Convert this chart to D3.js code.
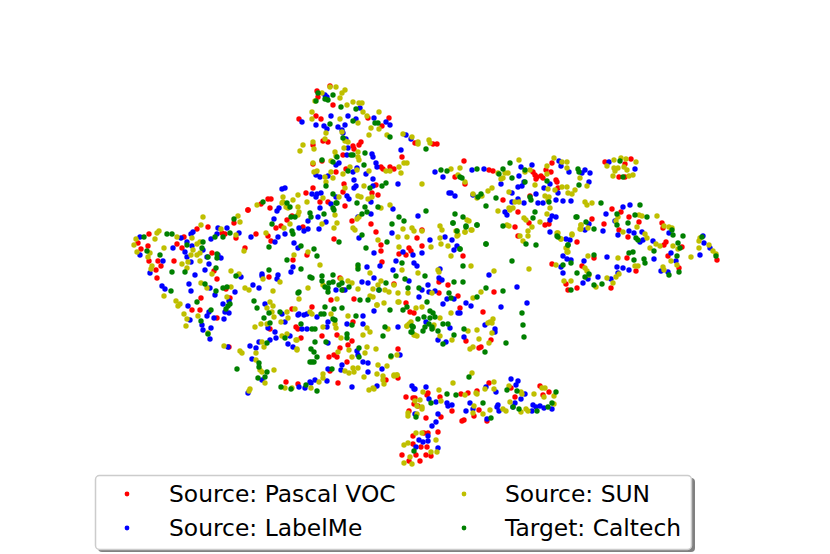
<!DOCTYPE html>
<html><head><meta charset="utf-8">
<script src="https://cdn.jsdelivr.net/npm/d3@7/dist/d3.min.js"></script>
<style>html,body{margin:0;padding:0;background:#fff}svg{display:block}</style>
</head><body><div id="chart"></div>
<script>
const seriesNames = ["Source: Pascal VOC","Source: LabelMe","Source: SUN","Target: Caltech"];
const seriesColors = ["#ff0000","#0000ff","#bfbf00","#008000"];
const pascal = [[248,210],[234,223],[208,227],[197,229],[149,234],[184,237],[222,233],[225,234],[236,238],[138,243],[148,246],[141,249],[177,244],[182,248],[245,248],[149,261],[158,261],[174,261],[161,266],[156,270],[212,253],[214,271],[157,278],[217,279],[226,289],[201,298],[230,298],
[192,310],[200,310],[217,318],[270,329],[296,327],[298,329],[292,309],[286,382],[298,384],[229,347],
[330,86],[317,91],[318,97],[333,105],[299,119],[316,116],[321,119],[368,118],[389,118],[382,126],[328,142],[323,141],[313,145],[353,146],[354,149],[361,142],[359,145],[343,155],[322,161],[313,164],[402,157],[433,144],[437,144],[415,143],[383,169],[390,167],[394,169],[381,167],[336,172],[346,169],[376,185],[344,184],[343,192],[313,188],[306,193],[268,199],[271,199],[261,204],[248,210],[270,208],[378,195],[372,193],[320,202],[328,202],[345,206],[287,220],[292,216],[352,221],[371,224],[281,226],[276,228],
[256,234],[268,236],[271,241],[303,227],[307,255],[293,260],[334,239],[376,232],[381,245],[381,251],[382,262],[269,277],[340,278],[343,290],[354,299],[331,300],
[422,230],[417,238],[422,246],[409,248],[411,251],[406,255],[399,254],[394,284],[439,282],[448,285],[439,293],[458,296],[406,303],[410,312],[414,313],[460,308],[463,256],[494,292],[483,312],[466,341],[491,340],[479,348],[481,347],
[312,307],[301,338],[322,336],[337,335],[352,341],[353,322],[340,348],[348,345],[334,355],[329,357],[337,357],[347,362],[330,371],[338,383],[398,349],[406,397],[415,398],[386,380],
[398,378],[413,398],[414,404],[418,406],[428,393],[427,395],[440,397],[452,411],[409,411],[426,418],[441,417],[462,421],[464,420],[461,394],[468,393],[489,383],[477,391],[515,397],[479,410],[474,416],[487,421],[549,392],[540,386],[543,395],[438,432],[413,436],[428,433],[424,433],[413,444],[421,447],[427,447],[402,455],[416,455],[426,455],[431,456],[409,461],[420,461],[511,388],
[464,161],[489,170],[493,171],[455,177],[465,184],[533,172],[535,175],[541,176],[536,179],[537,177],[546,170],[552,163],[551,172],[556,180],[557,182],[558,188],[503,200],[518,212],[530,196],[529,223],[515,227],[545,225],[549,224],[543,178],[605,162],[625,164],[631,159],[619,177],[625,177],[518,236],
[612,209],[621,212],[629,217],[639,222],[604,224],[592,219],[619,230],[628,237],[662,223],[663,228],[682,247],[666,242],[664,245],[668,256],[717,260],[679,268],[636,271],[627,258],[594,258],[582,266],[552,264],[566,284],[568,290],[577,288],[611,288],[577,242]];
const labelme = [[140,237],[218,228],[227,228],[193,232],[191,234],[181,238],[217,234],[211,239],[239,233],[251,237],[173,248],[187,242],[192,246],[203,250],[185,252],[140,255],[187,257],[207,257],[218,255],[221,258],[191,262],[209,264],[163,261],[205,270],[150,273],[195,275],[241,277],[189,284],[162,286],[165,289],[191,291],[210,288],[235,292],[215,295],[253,285],
[188,306],[223,304],[229,301],[265,304],[229,313],[225,312],[209,312],[207,316],[214,318],[224,319],[190,320],[202,325],[211,328],[203,330],[210,339],[275,332],[270,340],[276,338],[285,322],[282,314],[268,328],[290,336],[288,344],[293,347],[259,342],[250,346],[256,348],[252,359],[228,347],[262,380],[248,393],[299,387],[298,315],
[325,95],[327,97],[302,122],[331,116],[348,116],[356,119],[360,108],[374,118],[386,122],[390,125],[316,125],[324,126],[327,129],[345,125],[338,127],[342,130],[343,133],[406,135],[411,139],[346,139],[348,148],[347,155],[401,150],[372,154],[373,157],[376,163],[377,167],[339,163],[336,165],[353,172],[357,168],[366,174],[316,175],[320,177],[328,176],[435,172],[443,177],[373,179],[354,180],[373,186],[356,186],[354,188],[398,184],[282,189],[285,188],[312,194],[317,194],[321,193],[316,197],[336,197],[347,196],[349,199],[449,193],[279,208],[277,211],[320,208],[331,204],[371,202],[274,219],[318,217],[308,221],[326,222],[358,217],[371,214],[393,209],[418,216],[299,228],[319,229],
[278,237],[275,242],[285,234],[308,229],[304,231],[294,243],[298,248],[359,238],[374,253],[380,266],[293,267],[291,272],[262,274],[262,276],[278,275],[277,279],[259,288],[336,290],[362,282],[368,283],[367,267],[374,278],[393,270],[379,290],[396,261],[392,233],[345,290],
[430,240],[422,253],[413,255],[403,252],[414,263],[417,266],[409,281],[422,290],[419,297],[428,285],[429,292],[435,291],[440,269],[439,278],[442,280],[443,304],[447,299],[454,299],[457,246],[454,250],[445,237],[452,240],[489,275],[466,303],[471,306],[458,313],[460,313],[517,287],[501,307],[527,303],[426,322],[450,328],[485,325],[495,329],[495,332],[438,340],[446,342],[464,337],
[299,314],[304,315],[307,314],[317,317],[328,322],[327,327],[302,329],[307,329],[347,324],[363,316],[363,324],[374,311],[398,327],[328,343],[357,351],[358,355],[363,362],[368,363],[368,372],[342,365],[341,370],[328,369],[310,382],[315,380],[327,381],[311,383],[305,388],[352,387],[377,386],[382,369],[412,386],[414,389],[400,355],
[415,389],[426,387],[429,399],[436,402],[447,403],[448,406],[452,405],[415,414],[438,414],[436,422],[432,426],[466,411],[470,403],[473,409],[487,419],[498,405],[497,407],[499,411],[515,403],[513,407],[496,392],[486,387],[511,379],[518,381],[516,385],[521,399],[525,394],[533,405],[536,407],[540,406],[544,408],[552,409],[532,411],[428,436],[428,441],[419,440],[423,442],[416,447],[438,448],
[472,170],[484,169],[451,193],[455,196],[473,195],[519,176],[532,165],[521,167],[501,184],[518,187],[522,186],[524,182],[559,161],[561,166],[569,172],[585,170],[590,173],[582,173],[589,182],[544,188],[550,184],[558,193],[512,193],[536,194],[518,199],[512,202],[505,212],[507,215],[524,203],[538,203],[543,203],[563,201],[571,201],[556,200],[552,216],[556,217],[550,232],[609,162],[635,169],
[623,207],[630,205],[606,214],[615,221],[603,231],[618,235],[629,231],[634,233],[642,232],[640,242],[643,240],[653,241],[669,233],[703,236],[704,243],[710,248],[700,255],[671,253],[654,259],[607,257],[676,261],[661,271],[668,272],[617,267],[623,268],[629,270],[598,277],[611,279],[618,273],[584,261],[563,256],[567,259],[571,260],[563,273],[583,283],[588,279],[561,267],[566,239],[570,240],[585,230],[550,220],[589,224]];
const sun = [[203,217],[238,216],[240,222],[201,225],[159,231],[157,233],[221,229],[136,239],[134,245],[155,239],[177,237],[236,235],[200,242],[192,238],[197,244],[137,252],[164,248],[244,251],[150,253],[148,257],[193,250],[191,255],[197,255],[200,253],[188,262],[182,264],[200,261],[152,266],[151,269],[187,268],[212,274],[231,271],[239,274],[201,283],[207,288],[231,287],[245,288],[249,290],[164,296],[227,297],
[176,301],[180,304],[178,306],[184,314],[187,319],[198,316],[186,326],[208,333],[270,302],[273,306],[267,308],[272,312],[274,317],[287,312],[288,318],[295,309],[281,322],[261,324],[255,327],[267,324],[287,334],[282,336],[296,340],[297,349],[262,342],[264,347],[224,346],[240,351],[242,353],[256,353],[256,360],[260,370],[274,370],[265,383],[250,389],[249,391],[285,388],[292,388],[262,372],
[330,87],[336,87],[345,90],[342,93],[322,93],[315,101],[340,98],[347,105],[353,102],[359,103],[362,103],[379,112],[312,112],[312,119],[340,119],[363,112],[367,116],[358,123],[371,128],[379,129],[326,133],[342,132],[369,135],[387,135],[403,134],[325,139],[313,142],[303,145],[300,151],[314,149],[345,141],[348,142],[344,148],[412,137],[418,142],[418,144],[429,140],[430,143],[335,152],[336,156],[358,152],[358,157],[359,160],[331,161],[313,163],[317,171],[314,172],[350,167],[357,170],[369,171],[407,163],[404,163],[399,167],[386,171],[390,171],[401,173],[325,177],[331,172],[333,178],[343,174],[326,182],[422,184],[345,188],[364,186],[358,196],[361,197],[372,197],[283,197],[298,195],[293,200],[283,202],[282,203],[298,207],[299,212],[323,198],[307,202],[339,197],[368,199],[288,208],[286,207],[335,215],[257,205],[381,208],[390,205],[359,217],[357,219],[337,223],[322,224],[290,224],[298,215],
[266,233],[284,228],[294,255],[308,252],[320,265],[263,279],[280,282],[323,285],[308,288],[273,291],[299,299],[378,240],[370,273],[341,279],[348,281],[352,283],[358,289],[373,289],[378,285],[381,281],[385,290],[389,292],[394,285],[370,296],[373,297],[384,303],[377,305],[337,299],[358,267],[334,228],[355,230],[353,228],
[412,228],[414,231],[422,231],[403,229],[407,237],[398,237],[399,247],[431,247],[440,226],[442,230],[440,238],[441,244],[448,246],[451,256],[457,231],[458,235],[465,232],[472,230],[438,270],[439,272],[471,266],[494,271],[529,269],[418,273],[402,270],[398,293],[408,293],[432,293],[422,307],[416,308],[399,302],[473,298],[481,292],[451,313],[440,318],[488,323],[490,322],[493,319],[492,323],[477,330],[468,331],[492,333],[440,336],[479,339],[452,340],[489,343],[411,322],[409,324],[407,326],[415,335],[417,336],[434,325],[433,328],[470,349],[473,347],
[310,312],[312,314],[331,314],[348,316],[377,305],[398,302],[335,324],[336,328],[323,327],[370,332],[367,328],[388,329],[407,326],[410,324],[414,335],[297,340],[297,350],[341,338],[363,335],[338,352],[349,350],[352,357],[367,347],[365,353],[376,349],[397,355],[391,357],[345,371],[349,373],[353,368],[358,368],[354,372],[323,374],[319,382],[323,378],[311,388],[378,365],[387,366],[364,377],[377,374],[383,376],[383,380],[384,384],[394,376],[397,375],[369,390],[373,388],[374,389],
[394,375],[397,375],[472,373],[453,383],[439,390],[423,392],[415,401],[420,400],[441,401],[417,406],[422,407],[422,409],[408,413],[408,416],[417,414],[465,395],[476,393],[477,394],[485,389],[494,382],[494,389],[509,386],[521,392],[522,394],[510,402],[474,406],[473,413],[483,414],[490,410],[503,409],[506,411],[526,409],[528,411],[521,412],[534,394],[542,388],[545,388],[544,397],[554,396],[554,404],[416,433],[422,433],[436,440],[408,443],[404,445],[431,452],[437,452],[410,457],[404,463],[412,464],
[451,169],[460,168],[458,175],[465,182],[492,188],[488,191],[473,194],[477,198],[482,196],[498,173],[508,173],[505,173],[503,178],[501,179],[519,160],[509,192],[515,202],[513,208],[509,208],[510,210],[519,202],[498,211],[525,172],[530,170],[535,185],[547,166],[547,174],[554,158],[562,162],[567,162],[567,168],[555,190],[548,189],[562,187],[567,187],[568,193],[572,194],[580,178],[587,186],[575,190],[549,197],[545,196],[585,202],[587,205],[592,203],[524,218],[526,220],[540,222],[532,227],[528,231],[528,236],[520,236],[547,214],[507,225],[509,226],[548,200],[550,208],[558,233],[561,239],[572,235],[581,225],[581,229],[588,228],[566,248],[567,252],[523,241],[469,221],[467,220],[471,230],[456,231],[457,236],[465,232],[607,166],[614,160],[621,158],[626,159],[636,162],[614,168],[618,168],[615,171],[624,167],[627,170],[613,176],[629,176],[633,175],
[657,216],[639,215],[642,216],[618,217],[616,221],[637,227],[623,232],[645,234],[647,238],[664,226],[669,227],[672,228],[656,244],[660,246],[650,248],[673,246],[678,249],[700,238],[699,241],[699,248],[709,245],[713,251],[716,254],[691,257],[618,258],[671,261],[663,267],[664,270],[635,266],[638,266],[677,265],[588,256],[556,265],[585,268],[587,271],[589,275],[581,225],[580,229],[572,234],[557,233],[561,239],[567,248],[568,252],[607,278],[613,283],[616,277],[619,274],[564,281],[571,281],[596,287]];
const caltech = [[144,237],[167,234],[172,234],[234,219],[215,237],[223,237],[230,233],[187,245],[203,242],[202,248],[147,251],[160,255],[208,257],[217,254],[217,258],[216,268],[172,272],[185,272],[236,276],[205,284],[223,288],[227,287],[216,291],[171,291],
[197,302],[211,310],[226,309],[228,306],[230,304],[201,321],[208,334],[254,301],[257,308],[269,313],[280,312],[264,318],[270,323],[285,338],[267,343],[237,369],[259,363],[259,367],[267,372],[258,378],[265,377],[281,387],[291,389],[298,293],
[318,93],[316,101],[325,99],[328,100],[333,95],[341,107],[356,109],[353,121],[375,123],[378,123],[390,137],[330,124],[343,138],[426,149],[337,157],[322,160],[333,162],[351,155],[353,155],[365,153],[364,165],[441,170],[447,171],[348,171],[326,186],[382,186],[386,183],[333,194],[370,188],[357,203],[287,203],[290,207],[263,202],[336,203],[333,208],[337,203],[365,207],[378,207],[362,214],[367,212],[310,213],[311,217],[295,217],[291,217],[324,214],[334,210],[426,211],[399,217],[404,221],[392,224],[272,224],
[292,231],[293,234],[269,247],[301,246],[314,249],[317,256],[287,260],[301,269],[269,270],[310,277],[312,278],[322,276],[322,281],[333,275],[329,283],[333,282],[325,287],[328,288],[328,292],[339,285],[342,290],[342,283],[349,287],[358,265],[358,269],[339,242],[362,235],[366,248],[387,242],[299,292],[360,300],[368,300],[386,283],[379,290],
[453,223],[466,226],[477,225],[486,244],[460,249],[463,266],[512,261],[425,276],[454,282],[463,282],[449,293],[451,298],[486,288],[477,297],[503,291],[427,302],[407,307],[403,310],[430,311],[522,313],[523,325],[524,337],[506,343],[485,352],[433,313],[424,317],[430,318],[435,317],[418,319],[429,324],[425,327],[443,324],[448,324],[432,327],[432,329],[423,331],[438,331],[413,327],[412,332],[454,335],[443,344],[464,329],[402,263],[405,279],[396,276],[408,288],[419,288],
[325,307],[342,308],[334,309],[321,314],[324,314],[333,319],[335,320],[352,325],[356,316],[390,310],[412,326],[413,327],[411,332],[301,324],[312,329],[315,329],[347,334],[347,338],[385,327],[383,336],[315,342],[326,342],[311,349],[314,352],[317,357],[310,362],[314,362],[312,362],[359,348],[359,357],[391,356],[332,369],[306,385],[317,391],
[469,377],[447,394],[456,395],[431,403],[483,403],[507,390],[517,391],[513,407],[519,409],[537,411],[548,407],[552,403],[556,392],[416,417],[491,418],[414,451],
[510,163],[477,169],[503,169],[499,174],[512,178],[460,177],[462,178],[525,170],[525,182],[547,181],[578,169],[579,172],[579,185],[481,194],[478,197],[496,198],[486,206],[455,214],[463,217],[453,223],[466,227],[477,225],[457,231],[530,197],[531,200],[549,202],[535,212],[533,218],[503,226],[557,236],[568,245],[486,244],[536,245],[526,244],[460,249],[601,203],[577,217],[620,161],[623,177],
[640,205],[617,214],[635,215],[647,217],[628,223],[617,225],[576,217],[586,222],[594,229],[636,238],[638,240],[672,230],[673,235],[683,236],[678,243],[680,248],[654,251],[633,252],[629,253],[594,255],[634,260],[644,259],[645,263],[677,256],[702,237],[716,256],[563,265],[571,263],[577,273],[589,274],[585,277],[602,284],[594,285],[571,290],[669,275],[679,272],[558,237],[568,245]];
const allSeries = [pascal,labelme,sun,caltech];

const W=830,H=554;
const x=d3.scaleLinear().domain([0,830]).range([0,W]);
const y=d3.scaleLinear().domain([0,554]).range([0,H]);
const svg=d3.select("#chart").append("svg").attr("width",W).attr("height",H);

allSeries.forEach((pts,i)=>{
  svg.append("g").attr("fill",seriesColors[i]).selectAll("circle").data(pts).join("circle")
    .attr("cx",d=>x(d[0])).attr("cy",d=>y(d[1])).attr("r",2.7);
});

const lg=svg.append("g").attr("font-family","'DejaVu Sans'").attr("font-size",23.4);
lg.append("rect").attr("x",98).attr("y",478).attr("width",597).attr("height",74).attr("rx",4).attr("fill","#808080");
lg.append("rect").attr("x",95.5).attr("y",475.5).attr("width",596).attr("height",74).attr("rx",4).attr("fill","#fff").attr("stroke","#cccccc").attr("stroke-width",1.5);
const colX=[[127,169],[464,505]],rowY=[494,528];
seriesNames.forEach((n,i)=>{
  const c=i<2?0:1,r=i%2;
  lg.append("circle").attr("cx",colX[c][0]).attr("cy",rowY[r]).attr("r",2.4).attr("fill",seriesColors[i]);
  lg.append("text").attr("x",colX[c][1]).attr("y",rowY[r]+8).text(n);
});
</script></body></html>
